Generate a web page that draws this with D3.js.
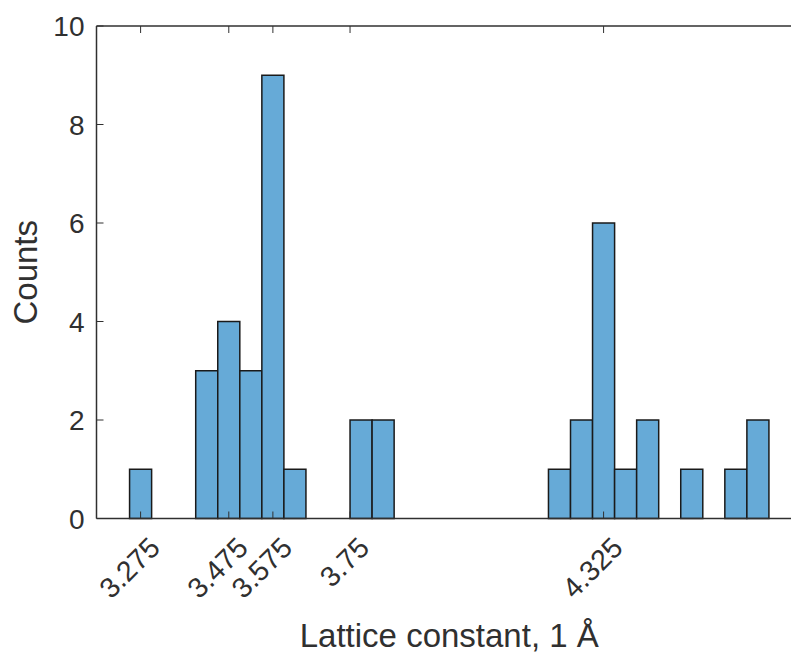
<!DOCTYPE html>
<html>
<head>
<meta charset="utf-8">
<script src="https://cdn.jsdelivr.net/npm/d3@7"></script>
<style>
  html, body { margin: 0; padding: 0; background: #fff; }
  svg { display: block; }
  text { font-family: "Liberation Sans", Arial, Helvetica, sans-serif; fill: #303030; }
</style>
</head>
<body>
<svg id="chart" width="791" height="655"></svg>
<script>
// Histogram bins (left edges, Å) and counts
const binStarts = [3.25, 3.40, 3.45, 3.50, 3.55, 3.60, 3.75, 3.80, 4.20, 4.25, 4.30, 4.35, 4.40, 4.50, 4.60, 4.65];
const counts    = [1,    3,    4,    3,    9,    1,    2,    2,    1,    2,    6,    1,    2,    1,    1,    2];
const binWidth = 0.05;
const xTickValues = [3.275, 3.475, 3.575, 3.75, 4.325];
const xTickLabels = ["3.275", "3.475", "3.575", "3.75", "4.325"];
const yTickValues = [0, 2, 4, 6, 8, 10];
const xDomain = [3.175, 4.775];
const yDomain = [0, 10];

(function () {
const svg = d3.select("#chart");
const pL = 96.5, pR = 802, pT = 26, pB = 518.5;

const x = d3.scaleLinear().domain(xDomain).range([pL, pR]);
const y = d3.scaleLinear().domain(yDomain).range([pB, pT]);

const axisColor = "#303030";

// Bars
const bins = binStarts.map((s, i) => ({ x0: s, x1: s + binWidth, n: counts[i] }));
svg.append("g").selectAll("rect").data(bins).join("rect")
  .attr("x", d => x(d.x0))
  .attr("y", d => y(d.n))
  .attr("width", d => x(d.x1) - x(d.x0))
  .attr("height", d => y(0) - y(d.n))
  .attr("fill", "#66aad7")
  .attr("stroke", "#1a1a1a")
  .attr("stroke-width", 1.5);

// Axes lines
const g = svg.append("g").attr("stroke", axisColor).attr("stroke-width", 1.5).attr("fill", "none");
g.append("line").attr("x1", pL).attr("x2", pR).attr("y1", pB).attr("y2", pB);
g.append("line").attr("x1", pL).attr("x2", pR).attr("y1", pT).attr("y2", pT);
g.append("line").attr("x1", pL).attr("x2", pL).attr("y1", pT).attr("y2", pB);

const tl = 7;
xTickValues.forEach(v => {
  g.append("line").attr("x1", x(v)).attr("x2", x(v)).attr("y1", pB).attr("y2", pB - tl).attr("stroke-width", 1);
  g.append("line").attr("x1", x(v)).attr("x2", x(v)).attr("y1", pT).attr("y2", pT + tl).attr("stroke-width", 1);
});
yTickValues.forEach(v => {
  g.append("line").attr("x1", pL).attr("x2", pL + tl).attr("y1", y(v)).attr("y2", y(v)).attr("stroke-width", 1);
});

// x tick labels rotated 45
svg.append("g").selectAll("text").data(xTickValues).join("text")
  .attr("transform", d => `translate(${x(d) + 21},${pB + 31}) rotate(-45)`)
  .attr("text-anchor", "end")
  .attr("font-size", 28.5)
  .text((d, i) => xTickLabels[i]);

// y tick labels
svg.append("g").selectAll("text").data(yTickValues).join("text")
  .attr("x", pL - 12)
  .attr("y", d => y(d))
  .attr("dy", "0.36em")
  .attr("text-anchor", "end")
  .attr("font-size", 28)
  .text(d => d);

// Axis labels
svg.append("text")
  .attr("x", (pL + pR) / 2)
  .attr("y", 647)
  .attr("text-anchor", "middle")
  .attr("font-size", 33)
  .text("Lattice constant, 1 Å");

svg.append("text")
  .attr("transform", `translate(37,${(pT + pB) / 2}) rotate(-90)`)
  .attr("text-anchor", "middle")
  .attr("font-size", 33)
  .text("Counts");
})();
</script>
</body>
</html>
